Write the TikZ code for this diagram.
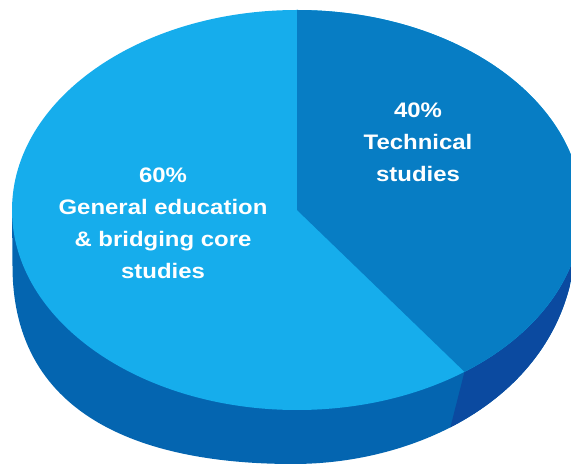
\documentclass[tikz,border=0pt]{standalone}
\usepackage{fontspec}
\newfontfamily\lblfont[FakeStretch=1.14]{Liberation Sans}
\definecolor{topA}{RGB}{22,173,236}
\definecolor{topB}{RGB}{7,125,196}
\definecolor{sideA}{RGB}{4,101,176}
\definecolor{sideB}{RGB}{11,74,160}
\tikzset{
  lbl/.style={text=white, font=\lblfont\bfseries\fontsize{21}{32}\selectfont, align=center, inner sep=0pt},
}
\begin{document}
\begin{tikzpicture}[x=1pt,y=1pt]
\useasboundingbox (0,0) rectangle (571,466);
\clip (0,0) rectangle (571,466);
\coordinate (C) at (297,256);
\coordinate (T) at (297,456);
\coordinate (S) at (464.5,94.2);
\coordinate (Bx) at (437,-14);
% side silhouette
\fill[sideA] (12,256) -- (12.5,200) .. controls (12.5,45) and (150,2) .. (293,2) .. controls (430,2) and (572,80) .. (576,226) -- (586,256) -- cycle;
% darker side of the 40% slice
\begin{scope}
\clip (12,256) -- (12.5,200) .. controls (12.5,45) and (150,2) .. (293,2) .. controls (430,2) and (572,80) .. (576,226) -- (586,256) -- cycle;
\fill[sideB] (S) -- (Bx) -- (600,-14) -- (600,466) -- cycle;
\end{scope}
% top face
\fill[topA] (C) ellipse[x radius=285pt, y radius=200pt];
\fill[topB] (C) -- (T) arc[start angle=90, end angle=-54, x radius=285pt, y radius=200pt] -- cycle;
% labels
\node[lbl] (l60) at (163,243) {60\%\\General education\\\& bridging core\\studies};
\node[lbl] (l40) at (418,324) {40\%\\Technical\\studies};
\end{tikzpicture}
\end{document}
